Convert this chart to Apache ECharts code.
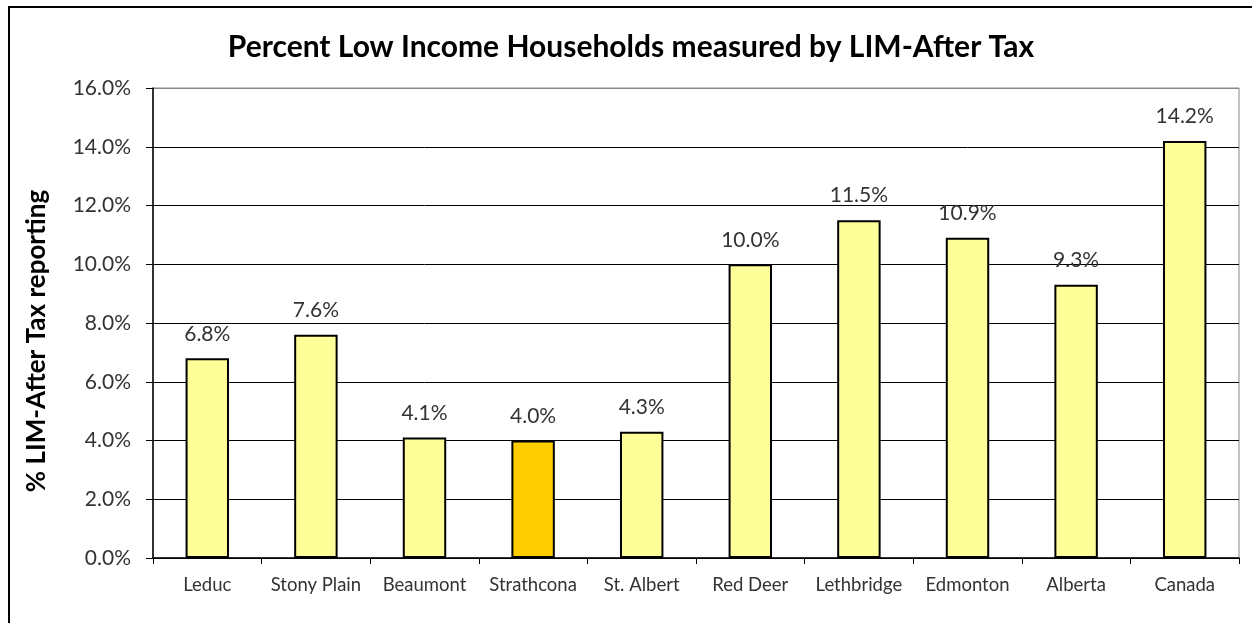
<!DOCTYPE html>
<html>
<head>
<meta charset="utf-8">
<script src="https://cdn.jsdelivr.net/npm/echarts@6/dist/echarts.min.js"></script>
<style>
html,body{margin:0;padding:0;background:#fff;}
#frame{position:absolute;left:8px;top:6px;width:1260px;height:640px;border:2px solid #000;box-sizing:border-box;}
#c{position:absolute;left:0;top:0;width:1252px;height:623px;}
</style>
</head>
<body>
<div id="frame"></div>
<div id="c"></div>
<script>
var categories = ['Leduc','Stony Plain','Beaumont','Strathcona','St. Albert','Red Deer','Lethbridge','Edmonton','Alberta','Canada'];
var values = [6.8, 7.6, 4.1, 4.0, 4.3, 10.0, 11.5, 10.9, 9.3, 14.2];
var highlight = 'Strathcona';
var titleText = 'Percent Low Income Households measured by LIM-After Tax';
var yAxisTitle = '% LIM-After Tax reporting';

var font = 'Lato, "Open Sans", sans-serif';
var chart = echarts.init(document.getElementById('c'));
chart.setOption({
  animation: false,
  backgroundColor: 'transparent',
  title: {
    text: titleText, left: 626, top: 27, textAlign: 'center',
    textStyle: {fontFamily: font, fontSize: 30, fontWeight: 'bold', color: '#000'}
  },
  grid: {left: 153, right: 13, top: 88, bottom: 65, show: true, borderColor: '#888', borderWidth: 1},
  xAxis: {
    type: 'category', data: categories,
    axisLine: {lineStyle: {color: '#000', width: 1.5}},
    axisTick: {show: true, length: 6, alignWithLabel: false, lineStyle: {color: '#000'}},
    axisLabel: {interval: 0, fontFamily: font, fontSize: 18.5, color: '#333', margin: 18}
  },
  yAxis: {
    type: 'value', min: 0, max: 16, interval: 2,
    name: yAxisTitle, nameLocation: 'middle', nameGap: 103,
    nameTextStyle: {fontFamily: font, fontSize: 26, fontWeight: 'bold', color: '#000', padding: [0, 36, 0, 0]},
    axisLine: {show: true, lineStyle: {color: '#000', width: 1.5}},
    axisTick: {show: true, length: 7, lineStyle: {color: '#000'}},
    axisLabel: {fontFamily: font, fontSize: 21, color: '#333', margin: 22,
      formatter: function(v){ return v.toFixed(1) + '%'; }},
    splitLine: {show: true, lineStyle: {color: ['#000','#000','#000','#000','#000','#000','#000','#000','#888'], width: 1}}
  },
  series: [{
    type: 'bar', barWidth: '40%',
    data: values.map(function(v, i){
      return {value: v, itemStyle: {color: categories[i] === highlight ? '#FFCC00' : '#FFFF99'}};
    }),
    itemStyle: {borderColor: '#000', borderWidth: 2},
    label: {show: true, position: 'top', distance: 14, fontFamily: font, fontSize: 21, color: '#333',
      formatter: function(p){ return p.value.toFixed(1) + '%'; }}
  }]
});
</script>
</body>
</html>
